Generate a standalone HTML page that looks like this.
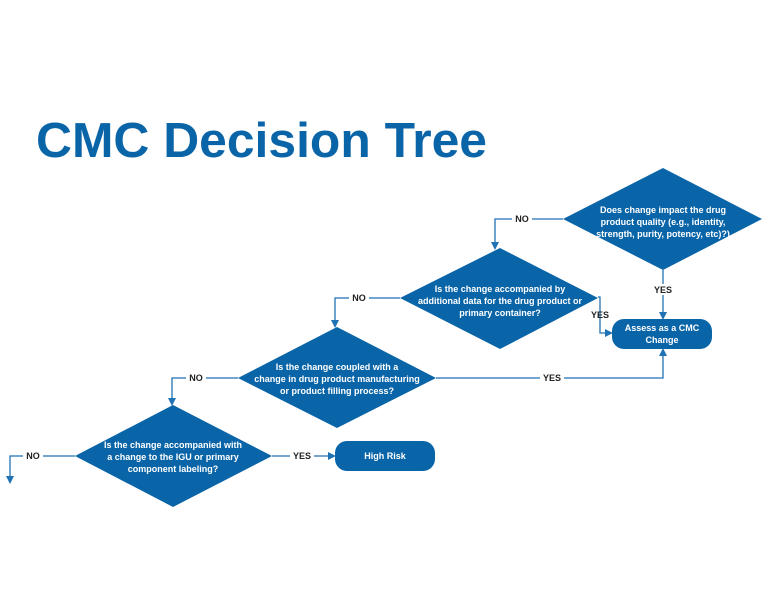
<!DOCTYPE html>
<html><head><meta charset="utf-8"><style>
html,body{margin:0;padding:0;background:#fff;}
svg{display:block;font-family:"Liberation Sans",sans-serif;}
.d{fill:#0a65a8;}
.t{fill:#fff;font-size:9px;font-weight:bold;text-anchor:middle;}
.l{fill:#222;font-size:9px;font-weight:bold;text-anchor:middle;}
.c{stroke:#1f72b3;stroke-width:1.3;fill:none;}
.a{fill:#1f72b3;}
</style></head><body>
<svg width="768" height="600" viewBox="0 0 768 600" xmlns="http://www.w3.org/2000/svg">
<text x="36" y="157" font-size="49" font-weight="bold" fill="#0a65a8" textLength="451" lengthAdjust="spacingAndGlyphs">CMC Decision Tree</text>

<path class="c" d="M563 219 H495 V243"/><polygon class="a" points="491,242 499,242 495,250"/>
<rect x="512" y="213" width="20" height="11" fill="#fff"/><text class="l" x="522" y="222">NO</text>

<path class="c" d="M663 270 V313"/><polygon class="a" points="659,312 667,312 663,320"/>
<rect x="651" y="284" width="24" height="11" fill="#fff"/><text class="l" x="663" y="293">YES</text>

<path class="c" d="M598 297 H600 V333 H606"/><polygon class="a" points="605,329 605,337 613,333"/>
<text class="l" x="600" y="318">YES</text>

<path class="c" d="M400 298 H335 V321"/><polygon class="a" points="331,320 339,320 335,328"/>
<rect x="349" y="292" width="20" height="11" fill="#fff"/><text class="l" x="359" y="301">NO</text>

<path class="c" d="M436 378 H663 V355"/><polygon class="a" points="659,356 667,356 663,348"/>
<rect x="540" y="372" width="24" height="11" fill="#fff"/><text class="l" x="552" y="381">YES</text>

<path class="c" d="M238 378 H172 V399"/><polygon class="a" points="168,398 176,398 172,406"/>
<rect x="186" y="372" width="20" height="11" fill="#fff"/><text class="l" x="196" y="381">NO</text>

<path class="c" d="M272 456 H329"/><polygon class="a" points="328,452 328,460 336,456"/>
<rect x="290" y="450" width="24" height="11" fill="#fff"/><text class="l" x="302" y="459">YES</text>

<path class="c" d="M75 456 H10 V477"/><polygon class="a" points="6,476 14,476 10,484"/>
<rect x="23" y="450" width="20" height="11" fill="#fff"/><text class="l" x="33" y="459">NO</text>

<polygon class="d" points="563,219 663,168 762,219 663,270"/>
<text class="t" x="663" y="213">Does change impact the drug</text>
<text class="t" x="663" y="225">product quality (e.g., identity,</text>
<text class="t" x="663" y="237">strength, purity, potency, etc)?)</text>

<polygon class="d" points="400,298 500,248 598,298 500,349"/>
<text class="t" x="500" y="292">Is the change accompanied by</text>
<text class="t" x="500" y="304">additional data for the drug product or</text>
<text class="t" x="500" y="316">primary container?</text>

<polygon class="d" points="238,378 337,327 436,378 337,428"/>
<text class="t" x="337" y="370">Is the change coupled with a</text>
<text class="t" x="337" y="382">change in drug product manufacturing</text>
<text class="t" x="337" y="394">or product filling process?</text>

<polygon class="d" points="75,456 173,405 272,456 173,507"/>
<text class="t" x="173" y="448">Is the change accompanied with</text>
<text class="t" x="173" y="460">a change to the IGU or primary</text>
<text class="t" x="173" y="472">component labeling?</text>

<rect class="d" x="612" y="319" width="100" height="30" rx="12"/>
<text class="t" x="662" y="331">Assess as a CMC</text>
<text class="t" x="662" y="343">Change</text>

<rect class="d" x="335" y="441" width="100" height="30" rx="12"/>
<text class="t" x="385" y="459">High Risk</text>
</svg>
</body></html>
